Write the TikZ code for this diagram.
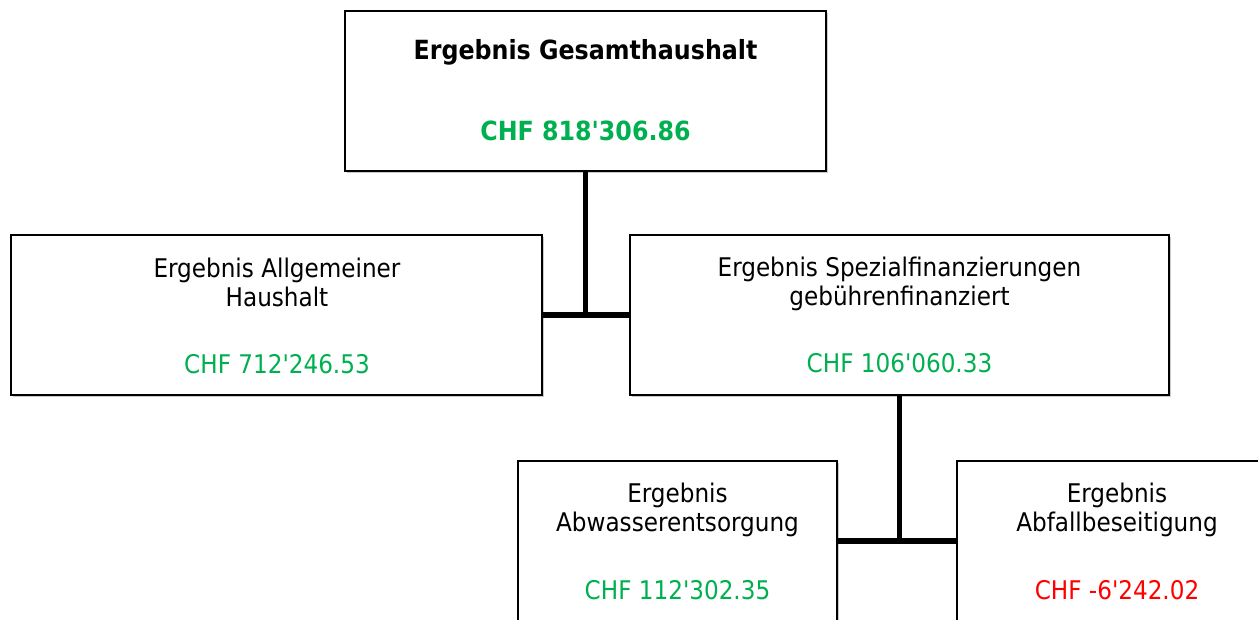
\documentclass[tikz,border=0pt]{standalone}
\usepackage{fontspec}
\setmainfont{DejaVu Sans Condensed}
\usetikzlibrary{shadows}
\definecolor{posgreen}{HTML}{00B050}
\definecolor{negred}{HTML}{FF0000}
\newcommand{\apo}{\textquotesingle}
\tikzset{
  box/.style={draw=black, line width=1.4pt, fill=white, inner sep=0pt,
    drop shadow={shadow xshift=1.5pt, shadow yshift=-2pt, opacity=0.35, fill=black!60}},
  lbl/.style={inner sep=0pt, align=center, font=\fontsize{25.7}{30}\selectfont,
    text height=19pt, text depth=6pt},
  conn/.style={line width=5.5pt, black},
}
\begin{document}
\begin{tikzpicture}[x=1pt, y=-1pt]
\useasboundingbox (0,0) rectangle (1258,619);
\clip (0,0) rectangle (1258,619);
\node[box, minimum width=481pt, minimum height=160pt] (top) at (585.5,91) {};
\node[box, minimum width=531pt, minimum height=160pt] (left) at (276.5,315) {};
\node[box, minimum width=539pt, minimum height=160pt] (mid) at (899.5,315) {};
\node[box, minimum width=319pt, minimum height=160pt] (bl) at (677.5,541) {};
\node[box, minimum width=343pt, minimum height=160pt] (br) at (1128.5,541) {};

\draw[conn] (top.south) -- (top.south |- left.east);
\draw[conn] (left.east) -- (mid.west);
\draw[conn] (mid.south) -- (mid.south |- bl.east);
\draw[conn] (bl.east) -- (br.west);

\node[lbl, font=\fontsize{26.4}{30}\selectfont\bfseries] (t1) at (585.5,53) {Ergebnis Gesamthaushalt};
\node[lbl, font=\fontsize{26.4}{30}\selectfont\bfseries, text=posgreen] (t2) at (585.5,134) {CHF 818\apo 306.86};

\node[lbl] (l1) at (277,271) {Ergebnis Allgemeiner};
\node[lbl] (l2) at (277,300) {Haushalt};
\node[lbl, text=posgreen] (l3) at (277,367) {CHF 712\apo 246.53};

\node[lbl] (m1) at (899.5,270) {Ergebnis Spezialfinanzierungen};
\node[lbl] (m2) at (899.5,299) {gebührenfinanziert};
\node[lbl, text=posgreen] (m3) at (899.5,366) {CHF 106\apo 060.33};

\node[lbl] (b1) at (677.5,496) {Ergebnis};
\node[lbl] (b2) at (677.5,525) {Abwasserentsorgung};
\node[lbl, text=posgreen] (b3) at (677.5,593) {CHF 112\apo 302.35};

\node[lbl] (r1) at (1117,496) {Ergebnis};
\node[lbl] (r2) at (1117,525) {Abfallbeseitigung};
\node[lbl, text=negred] (r3) at (1117,593) {CHF -6\apo 242.02};
\end{tikzpicture}
\end{document}
